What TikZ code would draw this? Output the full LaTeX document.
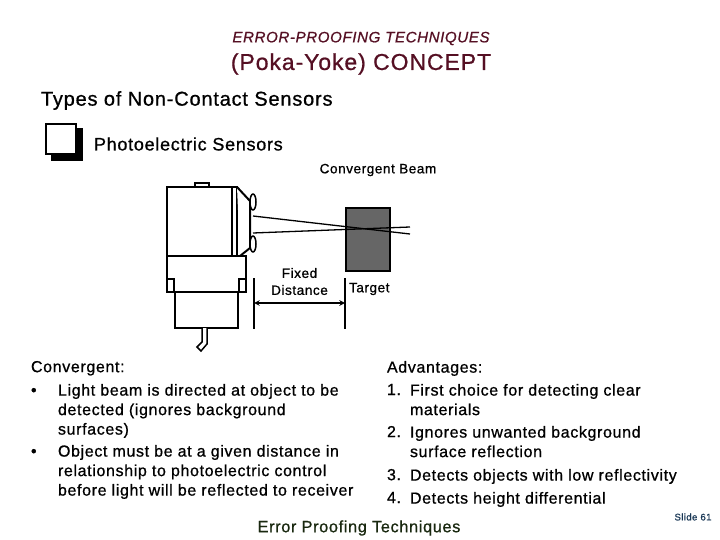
\documentclass[tikz,border=0pt]{standalone}
\usepackage{fontspec}
\usetikzlibrary{shapes.geometric}
\setmainfont{Liberation Sans}[FakeBold=0.8, LetterSpace=4]
\definecolor{targetgray}{RGB}{102,102,102}
\definecolor{titlered}{RGB}{85,15,35}
\definecolor{footgreen}{RGB}{25,40,15}
\definecolor{slideblue}{RGB}{25,55,85}
\tikzset{
    plain/.style={inner sep=0pt, outer sep=0pt, anchor=west},
    para/.style={inner sep=0pt, outer sep=0pt, anchor=north west, align=left, font=\fontsize{16}{19.5}\selectfont},
    small/.style={inner sep=0pt, outer sep=0pt, font=\fontsize{13.6}{17}\selectfont},
    sensor/.style={draw=black, line width=2pt, fill=white},
    lens/.style={draw=black, line width=1.5pt, fill=white, ellipse, minimum width=6pt, minimum height=16pt, inner sep=0pt},
    dimline/.style={draw=black, line width=1.5pt},
    beam/.style={draw=black, line width=1.3pt}
}

\begin{document}
\begin{tikzpicture}[x=1pt, y=-1pt]
    \useasboundingbox (0,0) rectangle (720,540);

    % headings
    \node[inner sep=0pt, text=titlered, font=\fontsize{15.1}{19}\selectfont\itshape] (title) at (361,38.5) {ERROR-PROOFING TECHNIQUES};
    \node[inner sep=0pt, text=titlered, font=\fontsize{23}{28}\selectfont] (concept) at (361,64) {(Poka-Yoke) CONCEPT};
    \node[plain, font=\fontsize{20}{22}\selectfont] (types) at (41,100.5) {Types of Non-Contact Sensors};

    % checkbox
    \fill[black] (51,128) rectangle (83,161);
    \draw[draw=black, line width=2pt, fill=white] (46,124) rectangle (76,154);
    \node[plain, font=\fontsize{18}{19}\selectfont] (photo) at (94,144) {Photoelectric Sensors};
    \node[small] (beamlabel) at (378,170) {Convergent Beam};

    % target
    \node[draw=black, line width=1.5pt, fill=targetgray, minimum width=44pt, minimum height=63pt, inner sep=0pt] (target) at (368,239.5) {};

    % sensor
    \draw[sensor] (195,187) rectangle (209,183);
    \draw[sensor] (167,187) rectangle (237,256);
    \draw[sensor] (232,187) -- (232,256);
    \draw[sensor] (237,187) -- (250,201) -- (250,248) -- (240,256);
    \node[lens] (lensup) at (253,202) {};
    \node[lens] (lensdown) at (253,244) {};
    \draw[sensor] (175,292) rectangle (238,328);
    \draw[sensor] (167,256) rectangle (246,292);
    \draw[sensor] (167,279) rectangle (174,292);
    \draw[sensor] (239,279) rectangle (246,292);
    \draw[black, line width=1.5pt, fill=white] (202,328) -- (202,342) -- (197,347) -- (201,351) -- (207,344) -- (207,328);

    % beams
    \coordinate (beamA) at (253,216);
    \coordinate (beamB) at (253,233);
    \coordinate (beamC) at (410,234);
    \coordinate (beamD) at (410,227);
    \draw[beam] (beamA) -- (beamC);
    \draw[beam] (beamB) -- (beamD);

    % fixed distance
    \coordinate (dimAtop) at (254,278);
    \coordinate (dimAbot) at (254,329);
    \coordinate (dimBtop) at (345,278);
    \coordinate (dimBbot) at (345,329);
    \coordinate (dimA) at (254,303);
    \coordinate (dimB) at (345,303);
    \draw[dimline] (dimAtop) -- (dimAbot);
    \draw[dimline] (dimBtop) -- (dimBbot);
    \draw[dimline, <->, >=stealth] (dimA) -- (dimB);
    \node[small, align=center] (fixed) at (299.5,281.5) {Fixed\\Distance};
    \node[plain, font=\fontsize{13.6}{17}\selectfont] (targetlabel) at (349,289) {Target};

    % left column
    \node[para] (convergent) at (31,361) {Convergent:};
    \node[para] (bulletA) at (31,388) {•};
    \node[para] (textA) at (58,384) {Light beam is directed at object to be\\detected (ignores background\\surfaces)};
    \node[para] (bulletB) at (31,449) {•};
    \node[para] (textB) at (58,445) {Object must be at a given distance in\\relationship to photoelectric control\\before light will be reflected to receiver};

    % right column
    \node[para] (advantages) at (387,361) {Advantages:};
    \node[para] (numA) at (387,384) {1.};
    \node[para] (advA) at (410,384) {First choice for detecting clear\\materials};
    \node[para] (numB) at (387,426) {2.};
    \node[para] (advB) at (410,426) {Ignores unwanted background\\surface reflection};
    \node[para] (numC) at (387,469) {3.};
    \node[para] (advC) at (410,469) {Detects objects with low reflectivity};
    \node[para] (numD) at (387,492) {4.};
    \node[para] (advD) at (410,492) {Detects height differential};

    % footer
    \node[inner sep=0pt, text=footgreen, font=\fontsize{16.3}{19}\selectfont] (footer) at (359,528) {Error Proofing Techniques};
    \node[inner sep=0pt, text=slideblue, font=\fontsize{9.6}{11}\selectfont] (slide) at (693,517) {Slide 61};
\end{tikzpicture}
\end{document}
